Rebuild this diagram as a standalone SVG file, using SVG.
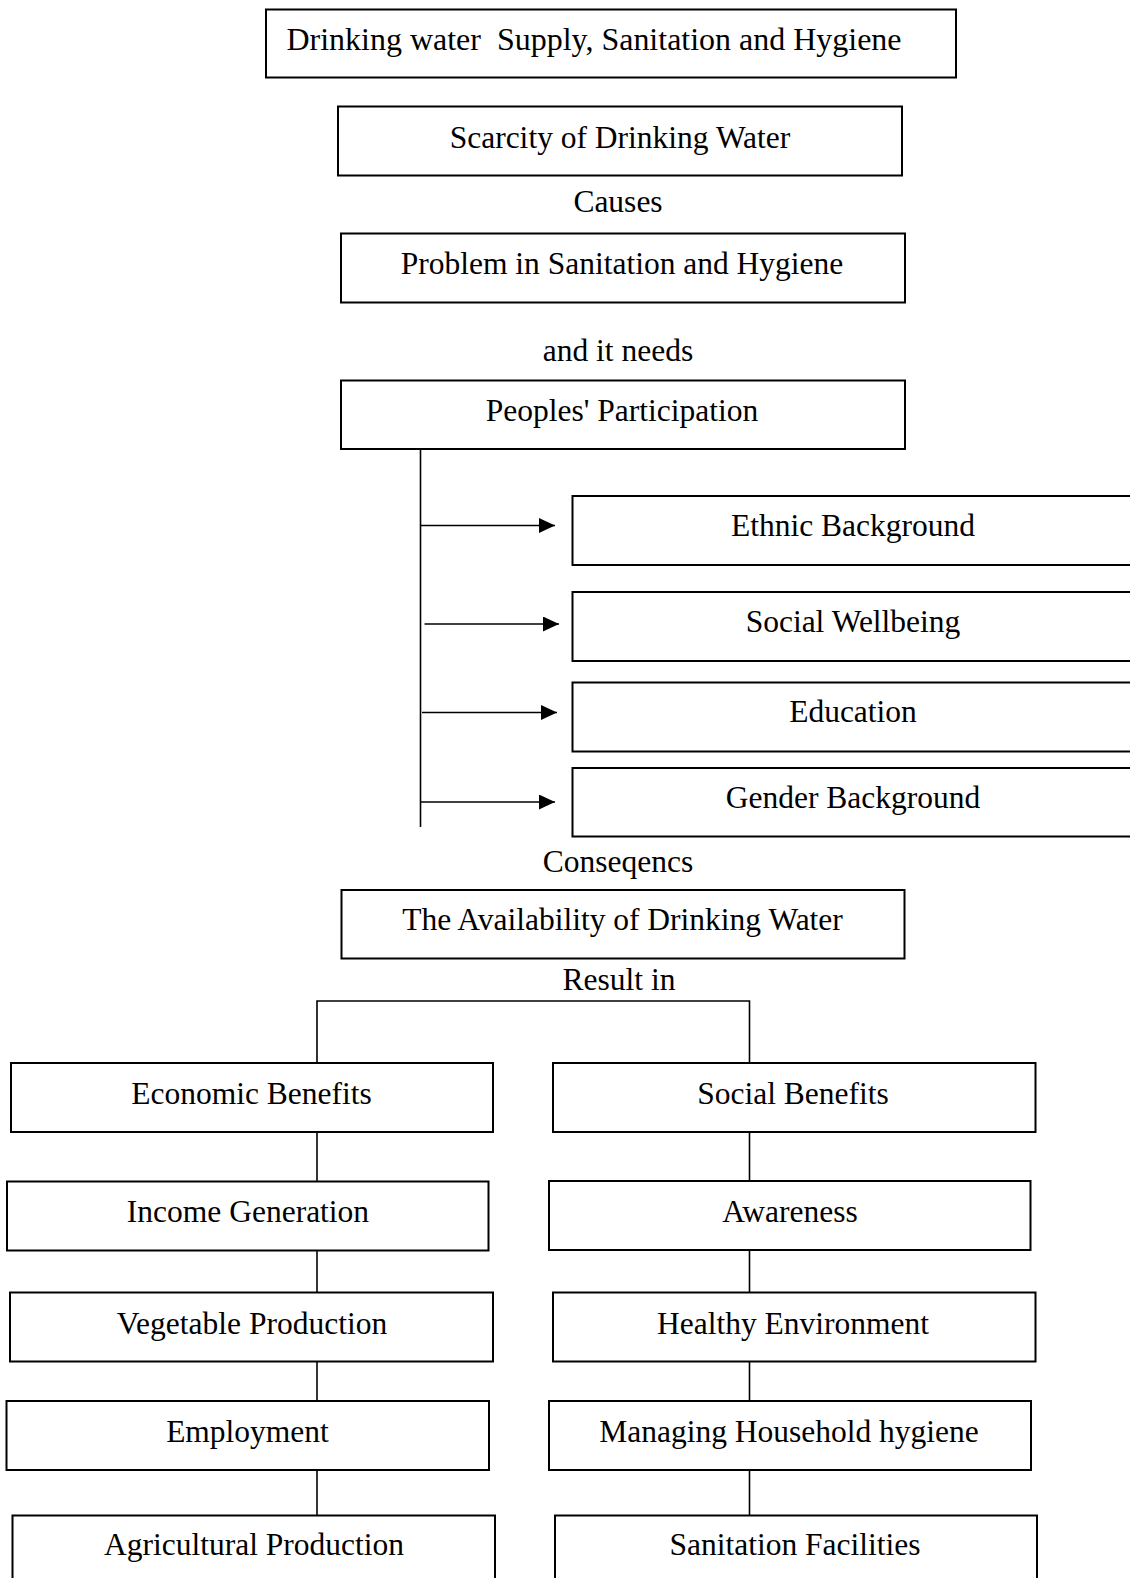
<svg xmlns="http://www.w3.org/2000/svg" width="1130" height="1578" viewBox="0 0 1130 1578">
<defs>
<style>
.box{fill:#fff;stroke:#000;stroke-width:2}
.ln{fill:none;stroke:#000;stroke-width:1.6}
text{font-family:"Liberation Serif","Times New Roman",serif;font-size:31.5px;fill:#000;text-anchor:middle}
</style>
<marker id="arr" markerWidth="16" markerHeight="15" refX="16" refY="7.5" orient="auto" markerUnits="userSpaceOnUse">
<path d="M0,0 L16,7.5 L0,15 Z" fill="#000"/>
</marker>
</defs>
<rect width="1130" height="1578" fill="#fff"/>
<g id="connectors">
<line class="ln" x1="420.5" y1="449" x2="420.5" y2="827"/>
<line class="ln" x1="420.5" y1="525.5" x2="555" y2="525.5" marker-end="url(#arr)"/>
<line class="ln" x1="424.5" y1="624" x2="559" y2="624" marker-end="url(#arr)"/>
<line class="ln" x1="422" y1="712.5" x2="557" y2="712.5" marker-end="url(#arr)"/>
<line class="ln" x1="420.5" y1="802" x2="555" y2="802" marker-end="url(#arr)"/>
<path class="ln" d="M317,1063 V1001 H749.5 V1063"/>
<line class="ln" x1="317" y1="1132" x2="317" y2="1181"/>
<line class="ln" x1="749.5" y1="1132" x2="749.5" y2="1181"/>
<line class="ln" x1="317" y1="1250" x2="317" y2="1292"/>
<line class="ln" x1="749.5" y1="1250" x2="749.5" y2="1292"/>
<line class="ln" x1="317" y1="1361" x2="317" y2="1401"/>
<line class="ln" x1="749.5" y1="1361" x2="749.5" y2="1401"/>
<line class="ln" x1="317" y1="1470" x2="317" y2="1515"/>
<line class="ln" x1="749.5" y1="1470" x2="749.5" y2="1515"/>
</g>
<g id="n-wash"><rect class="box" x="266" y="9.5" width="690" height="68"/><text x="594" y="50" xml:space="preserve" style="white-space:pre" textLength="615" lengthAdjust="spacingAndGlyphs">Drinking water  Supply, Sanitation and Hygiene</text></g>
<g id="n-scarcity"><rect class="box" x="338" y="106.5" width="564" height="69"/><text x="620" y="147.5">Scarcity of Drinking Water</text></g>
<g id="l-causes"><text x="618" y="211.5">Causes</text></g>
<g id="n-problem"><rect class="box" x="341" y="233.5" width="564" height="69"/><text x="622" y="274">Problem in Sanitation and Hygiene</text></g>
<g id="l-needs"><text x="618" y="361">and it needs</text></g>
<g id="n-participation"><rect class="box" x="341" y="380.5" width="564" height="68.5"/><text x="622" y="420.5">Peoples' Participation</text></g>
<g id="n-ethnic"><rect class="box" x="572.5" y="496" width="570" height="69"/><text x="853" y="535.5">Ethnic Background</text></g>
<g id="n-social-wellbeing"><rect class="box" x="572.5" y="592" width="570" height="69"/><text x="853" y="631.5">Social Wellbeing</text></g>
<g id="n-education"><rect class="box" x="572.5" y="682.5" width="570" height="69"/><text x="853" y="722">Education</text></g>
<g id="n-gender"><rect class="box" x="572.5" y="768" width="570" height="68.5"/><text x="853" y="807.5">Gender Background</text></g>
<g id="l-consequences"><text x="618" y="871.5">Conseqencs</text></g>
<g id="n-availability"><rect class="box" x="341.5" y="890" width="563" height="68.5"/><text x="622.5" y="929.5">The Availability of Drinking Water</text></g>
<g id="l-result"><text x="619" y="990">Result in</text></g>
<g id="n-economic"><rect class="box" x="11" y="1063" width="482" height="69"/><text x="251.5" y="1103.5">Economic Benefits</text></g>
<g id="n-social"><rect class="box" x="553" y="1063" width="482.5" height="69"/><text x="793" y="1103.5">Social Benefits</text></g>
<g id="n-income"><rect class="box" x="7" y="1181.5" width="481.5" height="69"/><text x="248" y="1221.5">Income Generation</text></g>
<g id="n-awareness"><rect class="box" x="549" y="1181" width="481.5" height="69"/><text x="790" y="1221.5">Awareness</text></g>
<g id="n-vegetable"><rect class="box" x="10" y="1292.5" width="483" height="69"/><text x="252" y="1333.5">Vegetable Production</text></g>
<g id="n-healthy"><rect class="box" x="553" y="1292.5" width="482.5" height="69"/><text x="793" y="1333.5">Healthy Environment</text></g>
<g id="n-employment"><rect class="box" x="6.5" y="1401" width="482.5" height="69"/><text x="247.5" y="1441.5">Employment</text></g>
<g id="n-household"><rect class="box" x="549" y="1401" width="482" height="69"/><text x="789" y="1441.5">Managing Household hygiene</text></g>
<g id="n-agricultural"><rect class="box" x="12.5" y="1515.5" width="482.5" height="80"/><text x="254" y="1555">Agricultural Production</text></g>
<g id="n-sanitation"><rect class="box" x="555" y="1515.5" width="482" height="80"/><text x="795" y="1555">Sanitation Facilities</text></g>
</svg>
